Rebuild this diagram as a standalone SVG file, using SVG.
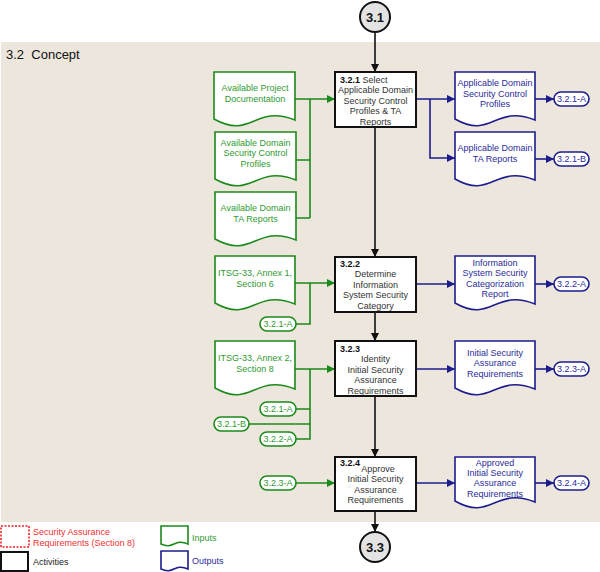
<svg xmlns="http://www.w3.org/2000/svg" width="600" height="572" viewBox="0 0 600 572">
<style>
text{font-family:"Liberation Sans",Arial,sans-serif;font-size:9px}
.t{fill:#333;text-anchor:middle}
.b{font-weight:bold;fill:#111}
.gt{fill:#2f9a2f;text-anchor:middle}
.bt{fill:#2b2b99;text-anchor:middle}
.act{fill:#fff;stroke:#111;stroke-width:2}
.gd{fill:#fff;stroke:#1a8a1a;stroke-width:1.6}
.bd{fill:#fff;stroke:#1c1c8c;stroke-width:1.6}
.gc{fill:none;stroke:#1a8a1a;stroke-width:1.6}
.bc{fill:none;stroke:#1c1c8c;stroke-width:1.6}
.kc{fill:none;stroke:#111;stroke-width:1.6}
.circ{fill:#e3e3e3;stroke:#111;stroke-width:2}
.ct{font-size:13px;font-weight:bold;fill:#111;text-anchor:middle}
.ot{font-size:9px}
</style>
<defs>
<marker id="ak" viewBox="0 0 10 10" refX="10" refY="5" markerWidth="8" markerHeight="8" markerUnits="userSpaceOnUse" orient="auto"><path d="M0,0L10,5L0,10z" fill="#111"/></marker>
<marker id="ag" viewBox="0 0 10 10" refX="10" refY="5" markerWidth="8" markerHeight="8" markerUnits="userSpaceOnUse" orient="auto"><path d="M0,0L10,5L0,10z" fill="#1a8a1a"/></marker>
<marker id="ab" viewBox="0 0 10 10" refX="10" refY="5" markerWidth="8" markerHeight="8" markerUnits="userSpaceOnUse" orient="auto"><path d="M0,0L10,5L0,10z" fill="#1c1c8c"/></marker>
</defs>
<rect x="1" y="42" width="599" height="480" fill="#ece6dc"/>
<text x="6" y="59" style="font-size:13px;fill:#111" xml:space="preserve">3.2  Concept</text>

<g id="connectors">
<path class="kc" d="M375,32V72" marker-end="url(#ak)"/>
<path class="kc" d="M375,127V257" marker-end="url(#ak)"/>
<path class="kc" d="M375,312V341" marker-end="url(#ak)"/>
<path class="kc" d="M375,396V457" marker-end="url(#ak)"/>
<path class="kc" d="M375,511V532" marker-end="url(#ak)"/>
<path class="gc" d="M295,99H335" marker-end="url(#ag)"/>
<path class="gc" d="M296,160H310M296,218H310M310,99V218"/>
<path class="gc" d="M295,283H335" marker-end="url(#ag)"/>
<path class="gc" d="M310,283V324H296"/>
<path class="gc" d="M295,369H335" marker-end="url(#ag)"/>
<path class="gc" d="M310,369V439H296M296,409H310M249,424H310"/>
<path class="gc" d="M296,483H335" marker-end="url(#ag)"/>
<path class="bc" d="M416,99H455" marker-end="url(#ab)"/>
<path class="bc" d="M430,99V158H455" marker-end="url(#ab)"/>
<path class="bc" d="M535,99H554" marker-end="url(#ab)"/>
<path class="bc" d="M535,159H554" marker-end="url(#ab)"/>
<path class="bc" d="M416,284H455" marker-end="url(#ab)"/>
<path class="bc" d="M535,284H554" marker-end="url(#ab)"/>
<path class="bc" d="M416,369H455" marker-end="url(#ab)"/>
<path class="bc" d="M535,369H554" marker-end="url(#ab)"/>
<path class="bc" d="M416,483H455" marker-end="url(#ab)"/>
<path class="bc" d="M535,483H554" marker-end="url(#ab)"/>
</g>

<g id="c31"><circle class="circ" cx="375" cy="17" r="15"/><text class="ct" x="375" y="21.5">3.1</text></g>
<g id="c33"><circle class="circ" cx="375" cy="547" r="15"/><text class="ct" x="375" y="551.5">3.3</text></g>

<g id="a321"><rect class="act" x="335" y="72" width="81" height="55"/>
<text x="340" y="82.5" style="fill:#333"><tspan class="b">3.2.1</tspan> Select</text>
<text class="t" x="375.5" y="93">Applicable Domain</text>
<text class="t" x="375.5" y="103.5">Security Control</text>
<text class="t" x="375.5" y="114">Profiles &amp; TA</text>
<text class="t" x="375.5" y="124.5">Reports</text></g>

<g id="a322"><rect class="act" x="335" y="257" width="81" height="55"/>
<text class="b" x="340" y="266.5">3.2.2</text>
<text class="t" x="375.5" y="276.5">Determine</text>
<text class="t" x="375.5" y="287.5">Information</text>
<text class="t" x="375.5" y="297.5">System Security</text>
<text class="t" x="375.5" y="308.5">Category</text></g>

<g id="a323"><rect class="act" x="335" y="341" width="81" height="55"/>
<text class="b" x="340" y="351.5">3.2.3</text>
<text class="t" x="375.5" y="361.5">Identity</text>
<text class="t" x="375.5" y="372.5">Initial Security</text>
<text class="t" x="375.5" y="382.5">Assurance</text>
<text class="t" x="375.5" y="393.5">Requirements</text></g>

<g id="a324"><rect class="act" x="335" y="457" width="81" height="54"/>
<text class="b" x="340" y="465.5">3.2.4</text>
<text class="t" x="378" y="471.5">Approve</text>
<text class="t" x="375.5" y="481.5">Initial Security</text>
<text class="t" x="375.5" y="492.5">Assurance</text>
<text class="t" x="375.5" y="502.5">Requirements</text></g>

<g id="in1"><path class="gd" d="M214,72H295V120C254,104 252,140 214,119Z"/>
<text class="gt" x="255" y="90.5">Available Project</text>
<text class="gt" x="255" y="101.5">Documentation</text></g>
<g id="in2"><path class="gd" d="M215,132H296V180C255,164 253,200 215,179Z"/>
<text class="gt" x="255.5" y="145.5">Available Domain</text>
<text class="gt" x="255.5" y="155.5">Security Control</text>
<text class="gt" x="255.5" y="166.5">Profiles</text></g>
<g id="in3"><path class="gd" d="M215,192H296V240C255,224 253,260 215,239Z"/>
<text class="gt" x="255.5" y="210.5">Available Domain</text>
<text class="gt" x="255.5" y="221.5">TA Reports</text></g>
<g id="in4"><path class="gd" d="M215,256H295V304C254,288 252,324 215,303Z"/>
<text class="gt" x="255" y="275.5">ITSG-33, Annex 1,</text>
<text class="gt" x="255" y="286.5">Section 6</text></g>
<g id="in5"><path class="gd" d="M215,341H295V389C254,373 252,409 215,388Z"/>
<text class="gt" x="255" y="360.5">ITSG-33, Annex 2,</text>
<text class="gt" x="255" y="371.5">Section 8</text></g>

<g id="o1"><path class="bd" d="M455,72H535V120C494,104 492,140 455,119Z"/>
<text class="bt" x="495" y="85.5">Applicable Domain</text>
<text class="bt" x="495" y="96.5">Security Control</text>
<text class="bt" x="495" y="106.5">Profiles</text></g>
<g id="o2"><path class="bd" d="M455,132H535V180C494,164 492,200 455,179Z"/>
<text class="bt" x="495" y="150.5">Applicable Domain</text>
<text class="bt" x="495" y="161.5">TA Reports</text></g>
<g id="o3"><path class="bd" d="M455,256H535V304C494,288 492,324 455,303Z"/>
<text class="bt" x="495" y="265.5">Information</text>
<text class="bt" x="495" y="275.5">System Security</text>
<text class="bt" x="495" y="286.5">Categorization</text>
<text class="bt" x="495" y="296.5">Report</text></g>
<g id="o4"><path class="bd" d="M455,341H535V389C494,373 492,409 455,388Z"/>
<text class="bt" x="495" y="355.5">Initial Security</text>
<text class="bt" x="495" y="365.5">Assurance</text>
<text class="bt" x="495" y="376.5">Requirements</text></g>
<g id="o5"><path class="bd" d="M455,457H535V502C494,486 492,522 455,501Z"/>
<text class="bt" x="495" y="465.5">Approved</text>
<text class="bt" x="495" y="475.5">Initial Security</text>
<text class="bt" x="495" y="485.5">Assurance</text>
<text class="bt" x="495" y="496.5">Requirements</text></g>

<g id="g321a1"><rect class="gd" x="260" y="317" width="36" height="14" rx="7"/><text class="gt ot" x="278" y="327.3">3.2.1-A</text></g>
<g id="g321a2"><rect class="gd" x="260" y="402" width="36" height="14" rx="7"/><text class="gt ot" x="278" y="412.3">3.2.1-A</text></g>
<g id="g321b"><rect class="gd" x="214" y="417" width="35" height="14" rx="7"/><text class="gt ot" x="231.5" y="427.3">3.2.1-B</text></g>
<g id="g322a"><rect class="gd" x="260" y="432" width="36" height="14" rx="7"/><text class="gt ot" x="278" y="442.3">3.2.2-A</text></g>
<g id="g323a"><rect class="gd" x="260" y="476" width="36" height="14" rx="7"/><text class="gt ot" x="278" y="486.3">3.2.3-A</text></g>

<g id="b321a"><rect class="bd" x="554" y="92" width="35" height="14" rx="7"/><text class="bt ot" x="571.5" y="102.3">3.2.1-A</text></g>
<g id="b321b"><rect class="bd" x="554" y="152" width="35" height="14" rx="7"/><text class="bt ot" x="571.5" y="162.3">3.2.1-B</text></g>
<g id="b322a"><rect class="bd" x="554" y="277" width="35" height="14" rx="7"/><text class="bt ot" x="571.5" y="287.3">3.2.2-A</text></g>
<g id="b323a"><rect class="bd" x="554" y="362" width="35" height="14" rx="7"/><text class="bt ot" x="571.5" y="372.3">3.2.3-A</text></g>
<g id="b324a"><rect class="bd" x="554" y="476" width="35" height="14" rx="7"/><text class="bt ot" x="571.5" y="486.3">3.2.4-A</text></g>

<g id="legend">
<rect x="1" y="526" width="28" height="21" fill="#fff" stroke="#f02020" stroke-width="1.6" stroke-dasharray="2,1.5"/>
<text x="33" y="534.5" style="fill:#f03030">Security Assurance</text>
<text x="33" y="545.5" style="fill:#f03030">Requirements (Section 8)</text>
<rect class="act" x="1" y="552" width="27" height="19"/>
<text x="33" y="564.5" style="fill:#222">Activities</text>
<path class="gd" d="M161,526H188V544C174,538 174,550 161,544Z"/>
<text x="192" y="540.5" style="fill:#2f9a2f">Inputs</text>
<path class="bd" d="M161,551H188V569C174,563 174,575 161,569Z"/>
<text x="192" y="563.5" style="fill:#2b2b99">Outputs</text>
</g>
</svg>
